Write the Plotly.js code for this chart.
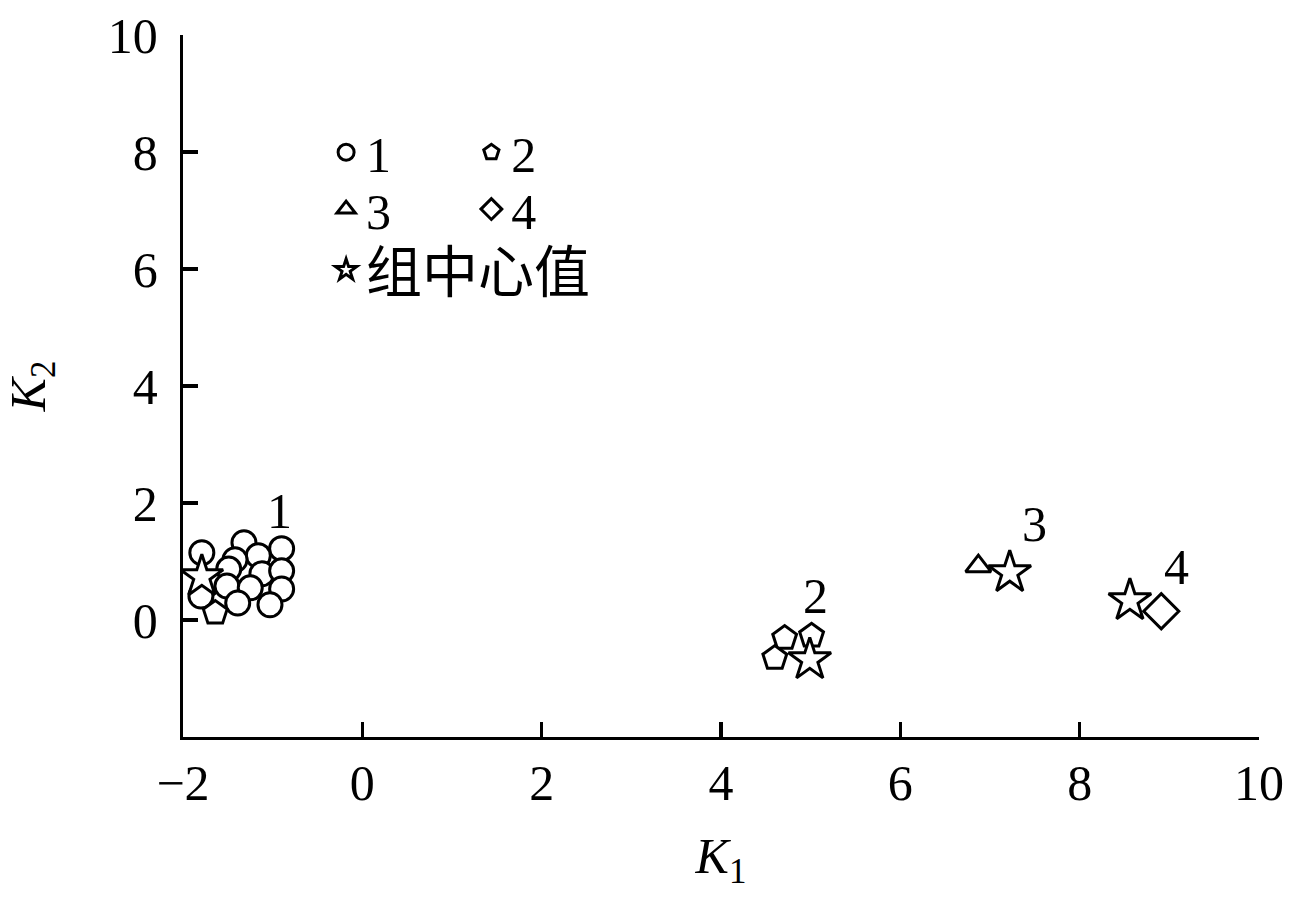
<!DOCTYPE html>
<html><head><meta charset="utf-8">
<script src="https://cdn.plot.ly/plotly-3.0.1.min.js"></script>
<style>body{margin:0;background:#fff}#chart{width:1289px;height:909px}</style>
</head><body><div id="chart"></div>
<script>
// Group 1 (circles)
const group1X = [-1.79, -1.32, -0.90, -1.16, -1.42, -1.49, -1.12, -0.90, -1.80, -1.51, -1.25, -0.90, -1.39, -1.03];
const group1Y = [1.15, 1.32, 1.22, 1.10, 1.03, 0.87, 0.79, 0.84, 0.41, 0.58, 0.55, 0.53, 0.29, 0.26];
// Group 2 (pentagons)
const group2X = [-1.64, 4.71, 5.01, 4.60];
const group2Y = [0.12, -0.31, -0.27, -0.65];
// Group 3 (triangle)
const group3X = [6.87];
const group3Y = [0.92];
// Group 4 (diamond)
const group4X = [8.91];
const group4Y = [0.15];
// Group centres (stars)
const centerX = [-1.79, 4.99, 7.22, 8.56];
const centerY = [0.74, -0.68, 0.81, 0.33];
// Cluster labels
const labelText = ['1', '2', '3', '4'];
const labelX = [-0.92, 5.05, 7.50, 9.08];
const labelY = [1.87, 0.41, 1.64, 0.90];
// Axes ticks
const xTicks = [-2, 0, 2, 4, 6, 8, 10];
const xTickText = ['\u22122', '0', '2', '4', '6', '8', '10'];
const yTicks = [0, 2, 4, 6, 8, 10];
const names = ['1', '2', '3', '4', '组中心值'];

const serif = 'Liberation Serif, Times New Roman, serif';
const cjk = 'Liberation Serif, Noto Sans CJK SC, serif';
const line = {color: '#000', width: 3};

function mk(x, y, name, symbol, size, legend) {
  return {
    type: 'scatter', mode: 'markers', x: x, y: y, name: name, legend: legend,
    marker: {symbol: symbol, size: size, color: '#fff', line: line},
    hoverinfo: 'x+y'
  };
}

const traces = [
  mk(group1X, group1Y, names[0], 'circle', 24, 'legend'),
  mk(group2X, group2Y, names[1], 'pentagon', 25, 'legend2'),
  mk(group3X, group3Y, names[2], 'triangle-up', 22, 'legend3'),
  mk(group4X, group4Y, names[3], 'diamond', 27, 'legend4'),
  mk(centerX, centerY, names[4], 'star', 32, 'legend5'),
];

const annotations = labelText.map((t, i) => ({
  x: labelX[i], y: labelY[i], xref: 'x', yref: 'y', text: t, showarrow: false,
  font: {family: serif, size: 50, color: '#000'}
}));

const axisCommon = {
  showgrid: false, zeroline: false, showline: true, linecolor: '#000', linewidth: 3.3,
  ticks: 'inside', ticklen: 15, tickwidth: 3.3, tickcolor: '#000',
  tickfont: {family: serif, size: 50, color: '#000'}
};

function leg(x, y, size, fam) {
  return {x: x, y: y, xanchor: 'left', yanchor: 'middle', bgcolor: 'rgba(0,0,0,0)',
    font: {family: fam, size: size, color: '#000'}, itemwidth: 30, tracegroupgap: 0};
}

const layout = {
  width: 1289, height: 909,
  margin: {l: 183, r: 30, t: 35, b: 172},
  paper_bgcolor: '#fff', plot_bgcolor: '#fff',
  showlegend: true,
  xaxis: Object.assign({}, axisCommon, {
    range: [-2, 10], tickmode: 'array', tickvals: xTicks, ticktext: xTickText,
    ticklabelstandoff: 0,
    title: {text: '<i>K</i><sub>1</sub>', font: {family: serif, size: 50, color: '#000'}, standoff: 28}
  }),
  yaxis: Object.assign({}, axisCommon, {
    range: [-2, 10], tickmode: 'array', tickvals: yTicks,
    ticklabelstandoff: 12,
    title: {text: '<i>K</i><sub>2</sub>', font: {family: serif, size: 50, color: '#000'}, standoff: 48}
  }),
  legend: leg(0.133, 0.833, 50, serif),
  legend2: leg(0.268, 0.833, 50, serif),
  legend3: leg(0.133, 0.752, 50, serif),
  legend4: leg(0.268, 0.752, 50, serif),
  legend5: leg(0.133, 0.665, 56, cjk),
  annotations: annotations
};

Plotly.newPlot('chart', traces, layout, {displayModeBar: false, staticPlot: true});
</script>
</body></html>
